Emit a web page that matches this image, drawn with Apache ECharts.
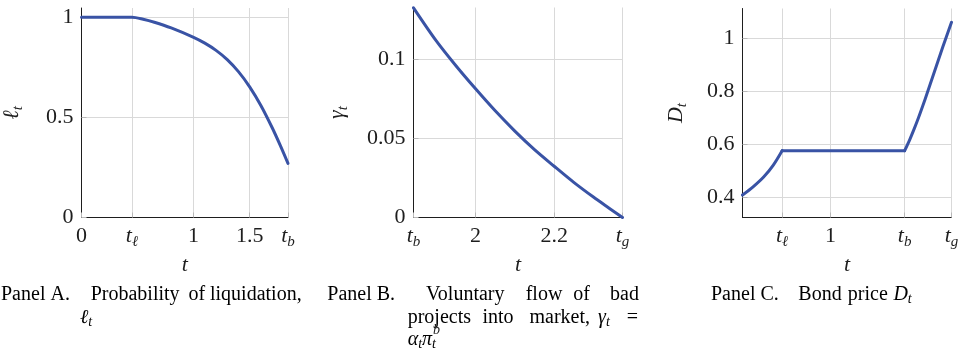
<!DOCTYPE html>
<html>
<head>
<meta charset="utf-8">
<script src="https://cdn.jsdelivr.net/npm/echarts@6/dist/echarts.min.js"></script>
<style>
  html, body { margin: 0; padding: 0; background: #fff; }
  #chart { width: 963px; height: 356px; }
</style>
</head>
<body>
<div id="chart"></div>
<script>
// Key times on the horizontal axes
const T_L = 0.45;   // t_ℓ
const T_B = 1.842;  // t_b
const T_G = 2.374;  // t_g

// Panel A: probability of liquidation ℓ_t on [0, t_b]
const timeA = [0, T_L, 0.55, 0.65, 0.8, 1.0, 1.1, 1.2, 1.3, 1.4, 1.5, 1.6, 1.7, 1.77, T_B];
const liqA  = [1, 1, 0.99, 0.975, 0.9465, 0.8995, 0.8705, 0.8345, 0.7885, 0.7285, 0.6525, 0.5595, 0.4495, 0.364, 0.2704];

// Panel B: voluntary flow of bad projects γ_t on [t_b, t_g]
const timeB  = [T_B, 1.9, 1.95, 2.0, 2.05, 2.1, 2.15, 2.2, 2.25, 2.3, 2.34, T_G];
const gammaB = [0.1325, 0.1116, 0.0959, 0.0813, 0.0674, 0.0546, 0.0429, 0.0324, 0.0222, 0.0129, 0.0059, 0];

// Panel C: bond price D_t on [0, t_g]
const timeC  = [0, 0.12, 0.24, 0.35, T_L, 1.0, T_B, 1.9, 1.95, 2.0, 2.05, 2.1, 2.15, 2.2, 2.25, 2.3, T_G];
const priceC = [0.41, 0.441, 0.478, 0.523, 0.577, 0.577, 0.577, 0.6188, 0.6588, 0.7018, 0.7478, 0.7958, 0.845, 0.894, 0.943, 0.991, 1.06];

// Tick values and their labels
const xTicksA = [0, T_L, 1, 1.5, T_B];
const xLabelsA = ['0', 't_ℓ', '1', '1.5', 't_b'];
const yTicksA = [0, 0.5, 1];
const yLabelsA = ['0', '0.5', '1'];

const xTicksB = [T_B, 2, 2.2, T_G];
const xLabelsB = ['t_b', '2', '2.2', 't_g'];
const yTicksB = [0, 0.05, 0.1];
const yLabelsB = ['0', '0.05', '0.1'];

const xTicksC = [T_L, 1, T_B, T_G];
const xLabelsC = ['t_ℓ', '1', 't_b', 't_g'];
const yTicksC = [0.4, 0.6, 0.8, 1];
const yLabelsC = ['0.4', '0.6', '0.8', '1'];

const FONT = '"Liberation Serif", "DejaVu Serif", serif';
const TXT = '#1e1e1e';
const BLUE = '#3953a5';
const AXIS = '#1e1e1e';
const GRID = '#d9d9d9';

const RICH = {
  n: { fontFamily: FONT, fontSize: 22, lineHeight: 27, color: TXT },
  i: { fontFamily: FONT, fontSize: 22, fontStyle: 'italic', lineHeight: 27, color: TXT },
  s: { fontFamily: FONT, fontSize: 15, fontStyle: 'italic', lineHeight: 15, verticalAlign: 'bottom', color: TXT }
};

// "t_b" -> italic base with subscript, "1.5" -> upright number
function toRich(s) {
  const k = s.indexOf('_');
  if (k < 0) return '{n|' + s + '}';
  return '{i|' + s.slice(0, k) + '}{s|' + s.slice(k + 1) + '}';
}
function labelFor(ticks, labels) {
  return function (v) {
    const idx = ticks.findIndex(t => Math.abs(t - v) < 1e-6);
    return idx < 0 ? '' : toRich(labels[idx]);
  };
}

function xAxis(gridIndex, min, max, ticks, labels) {
  return {
    type: 'value', gridIndex, min, max,
    axisLine: { show: true, onZero: false, lineStyle: { color: AXIS, width: 1 } },
    axisTick: { show: true, inside: true, length: 5, customValues: ticks, lineStyle: { color: '#b8b8b8' } },
    axisLabel: { customValues: ticks, margin: 5, showMinLabel: true, showMaxLabel: true,
                 formatter: labelFor(ticks, labels), rich: RICH },
    splitLine: { show: true, lineStyle: { color: GRID, width: 1 } },
    name: '{i|t}', nameLocation: 'middle', nameGap: 32,
    nameTextStyle: { rich: RICH }
  };
}
function yAxis(gridIndex, min, max, ticks, labels, name, gap) {
  return {
    type: 'value', gridIndex, min, max,
    axisLine: { show: true, onZero: false, lineStyle: { color: AXIS, width: 1 } },
    axisTick: { show: true, inside: true, length: 5, customValues: ticks, lineStyle: { color: '#b8b8b8' } },
    axisLabel: { customValues: ticks, margin: 8, showMinLabel: true, showMaxLabel: true,
                 formatter: labelFor(ticks, labels), rich: RICH },
    splitLine: { show: true, lineStyle: { color: GRID, width: 1 } },
    name: toRich(name), nameLocation: 'middle', nameGap: gap, nameRotate: 90,
    nameTextStyle: { rich: RICH }
  };
}

function pairs(xs, ys, from, to) {
  const out = [];
  for (let i = from; i <= to; i++) out.push([xs[i], ys[i]]);
  return out;
}
function curve(axisIndex, data, smooth) {
  return {
    type: 'line', xAxisIndex: axisIndex, yAxisIndex: axisIndex, data,
    showSymbol: false, smooth, silent: true,
    lineStyle: { color: BLUE, width: 3, cap: 'round', join: 'round' }
  };
}

// Panel C has kinks at t_ℓ and t_b, so it is drawn in three pieces
const iL = timeC.indexOf(T_L);
const iB = timeC.indexOf(T_B);

// Caption pieces: [x, y, text] with '_' meaning subscript
const CAP = 20;
const L1 = 295, L2 = 318, L3 = 340;
const captions = [
  [1, L1, 'Panel A.'], [90.7, L1, 'Probability'], [188.5, L1, 'of'], [210, L1, 'liquidation,'],
  [80, L2, 'ℓ_t'],
  [327.3, L1, 'Panel B.'], [426, L1, 'Voluntary'], [525.7, L1, 'flow'], [573.3, L1, 'of'], [610, L1, 'bad'],
  [407.7, L2, 'projects'], [482.5, L2, 'into'], [529.5, L2, 'market,'], [598, L2, 'γ_t'], [626.7, L2, '='],
  [711, L1, 'Panel C.'], [798.3, L1, 'Bond'], [847.8, L1, 'price'], [893.4, L1, 'D_t']
];
const CAP_RICH = {
  n: { fontFamily: FONT, fontSize: CAP, lineHeight: 23, color: TXT },
  i: { fontFamily: FONT, fontSize: CAP, fontStyle: 'italic', lineHeight: 23, color: TXT },
  s: { fontFamily: FONT, fontSize: 14, fontStyle: 'italic', lineHeight: 13, verticalAlign: 'bottom', color: TXT }
};
const graphics = captions.map(([x, y, t]) => ({
  type: 'text', x, y, silent: true,
  style: { text: toRich(t), rich: CAP_RICH, verticalAlign: 'middle', align: 'left' }
}));

// α_t π_t^b : the superscript b sits above the subscript t
const ctx = document.createElement('canvas').getContext('2d');
function w(txt, size) { ctx.font = 'italic ' + size + 'px ' + FONT; return ctx.measureText(txt).width; }
const L3x = 407.7;
graphics.push({
  type: 'text', x: L3x, y: L3, silent: true,
  style: { text: '{i|α}{s|t}{i|π}{s|t}', rich: CAP_RICH, verticalAlign: 'middle', align: 'left' }
});
graphics.push({
  type: 'text', x: L3x + w('α', CAP) + w('t', 14) + w('π', CAP) + 1, y: L3 - 10, silent: true,
  style: { text: 'b', fontFamily: FONT, fontSize: 14, fontStyle: 'italic', fill: TXT, verticalAlign: 'middle', align: 'left' }
});

const chart = echarts.init(document.getElementById('chart'), null, { renderer: 'canvas' });
chart.setOption({
  animation: false,
  backgroundColor: '#fff',
  grid: [
    { left: 78, top: 8, width: 210, height: 209.5 },
    { left: 413.5, top: 7.5, width: 209, height: 210 },
    { left: 742.5, top: 8.5, width: 209, height: 209 }
  ],
  xAxis: [
    xAxis(0, 0, T_B, xTicksA, xLabelsA),
    xAxis(1, T_B, T_G, xTicksB, xLabelsB),
    xAxis(2, 0, T_G, xTicksC, xLabelsC)
  ],
  yAxis: [
    yAxis(0, 0, 1.046, yTicksA, yLabelsA, 'ℓ_t', 56),
    yAxis(1, 0, 0.1327, yTicksB, yLabelsB, 'γ_t', 63),
    yAxis(2, 0.3255, 1.112, yTicksC, yLabelsC, 'D_t', 53)
  ],
  series: [
    curve(0, pairs(timeA, liqA, 0, timeA.length - 1), 0.3),
    curve(1, pairs(timeB, gammaB, 0, timeB.length - 1), 0.3),
    curve(2, pairs(timeC, priceC, 0, iL), 0.3),
    curve(2, pairs(timeC, priceC, iL, iB), false),
    curve(2, pairs(timeC, priceC, iB, timeC.length - 1), 0.3)
  ],
  graphic: graphics
});
</script>
</body>
</html>
